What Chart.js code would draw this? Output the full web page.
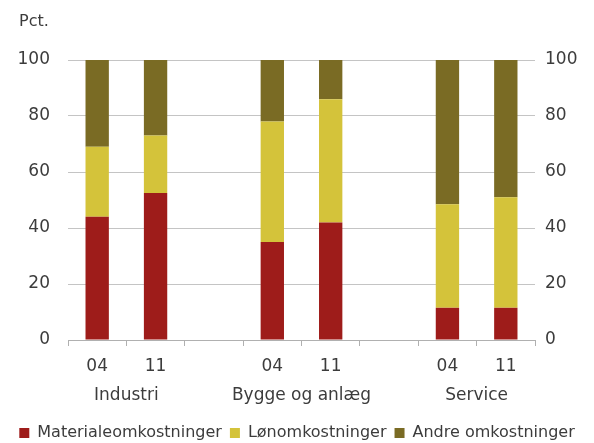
<!DOCTYPE html>
<html>
<head>
<meta charset="utf-8">
<script src="https://cdn.jsdelivr.net/npm/chart.js@4"></script>
<style>
  html, body { margin: 0; padding: 0; background: #fff; }
  #wrap { width: 594px; height: 443px; }
</style>
</head>
<body>
<div id="wrap"><canvas id="costChart" width="594" height="443"></canvas></div>
<script>
// Data (pct.)
const years = ["04", "11", "", "04", "11", "", "04", "11"];
const groups = ["", "Industri", "", "", "Bygge og anlæg", "", "", "Service", ""];
const materiale = [44, 52.5, null, 35, 42, null, 11.5, 11.5];
const loen = [25, 20.5, null, 43, 44, null, 37, 39.5];
const andre = [31, 27, null, 22, 14, null, 51.5, 49];
const yTicks = [0, 20, 40, 60, 80, 100];

document.addEventListener("DOMContentLoaded", function () {
  const ctx = document.getElementById("costChart").getContext("2d");
  const textColor = "#3c3c3c";
  const gridColor = "#c4c4c4";
  const tickFont = { family: "DejaVu Sans", size: 17 };

  // "Pct." over venstre akse
  const pctLabel = {
    id: "pctLabel",
    afterDraw: function (chart) {
      const c = chart.ctx;
      c.save();
      c.fillStyle = textColor;
      c.font = "16px 'DejaVu Sans'";
      c.textBaseline = "middle";
      c.fillText("Pct.", 19, 22);
      c.restore();
    }
  };

  new Chart(ctx, {
    type: "bar",
    data: {
      labels: years,
      datasets: [
        { label: "Materialeomkostninger", data: materiale, backgroundColor: "#9e1c1a" },
        { label: "Lønomkostninger", data: loen, backgroundColor: "#d4c33a" },
        { label: "Andre omkostninger", data: andre, backgroundColor: "#7a6b24" }
      ]
    },
    options: {
      responsive: false,
      animation: false,
      layout: { padding: { top: 60, left: 0, right: 0, bottom: -8 } },
      datasets: { bar: { barPercentage: 0.4, categoryPercentage: 1.0 } },
      plugins: {
        tooltip: { enabled: false },
        legend: {
          position: "bottom",
          labels: {
            color: textColor,
            font: { family: "DejaVu Sans", size: 16 },
            boxWidth: 10,
            boxHeight: 10,
            padding: 8
          }
        }
      },
      scales: {
        x: {
          stacked: true,
          weight: 0,
          border: { display: true, color: "#b0b0b0" },
          grid: { drawOnChartArea: false, tickLength: 6, color: "#b0b0b0" },
          ticks: { color: textColor, font: tickFont, padding: 10, autoSkip: false, maxRotation: 0 },
          afterFit: function (scale) { scale.height = 40; }
        },
        x2: {
          type: "category",
          position: "bottom",
          labels: groups,
          offset: false,
          weight: 1,
          border: { display: false },
          grid: { display: false, drawTicks: false },
          ticks: { color: textColor, font: tickFont, padding: 5, autoSkip: false, maxRotation: 0 },
          afterFit: function (scale) { scale.height = 37; }
        },
        y: {
          stacked: true,
          min: 0,
          max: 100,
          border: { display: false },
          grid: { color: gridColor, drawTicks: false },
          afterBuildTicks: function (scale) { scale.ticks = yTicks.map(v => ({ value: v })); },
          ticks: { color: textColor, font: tickFont, padding: 18 },
          afterFit: function (scale) { scale.width = 68; }
        },
        y2: {
          position: "right",
          min: 0,
          max: 100,
          border: { display: false },
          grid: { display: false, drawTicks: false },
          afterBuildTicks: function (scale) { scale.ticks = yTicks.map(v => ({ value: v })); },
          ticks: { color: textColor, font: tickFont, padding: 10 },
          afterFit: function (scale) { scale.width = 59; }
        }
      }
    },
    plugins: [pctLabel]
  });
});
</script>
</body>
</html>
